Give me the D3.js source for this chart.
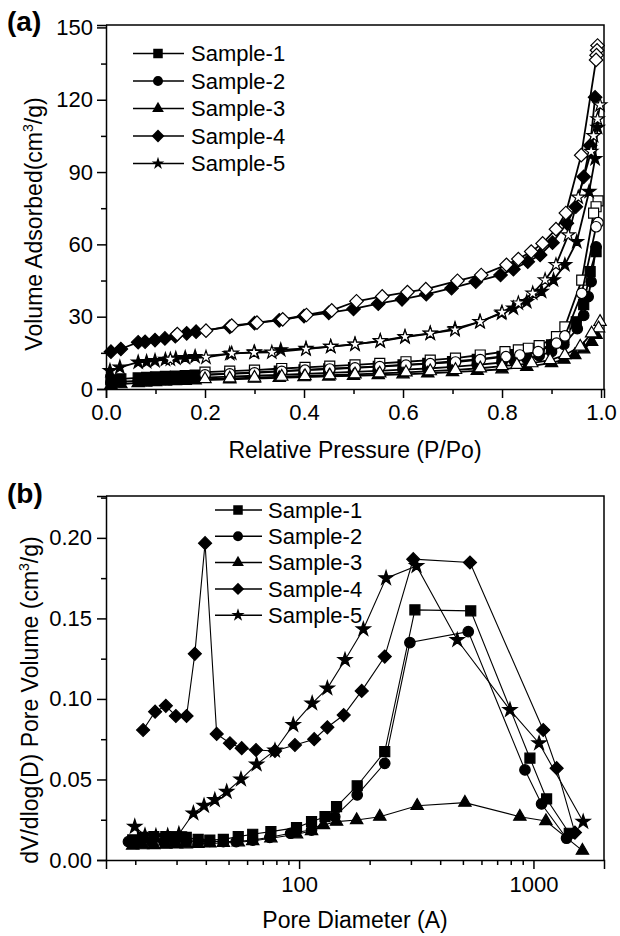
<!DOCTYPE html>
<html lang="en">
<head>
  <meta charset="utf-8">
  <script src="https://cdnjs.cloudflare.com/ajax/libs/d3/7.8.5/d3.min.js"></script>
  <style>
    body { margin: 0; background: #fff; }
    svg { font-family: "Liberation Sans", Arial, sans-serif; }
    .axis text { font-size: 22px; fill: #000; }
    .axis path, .axis line { stroke: #000; stroke-width: 1.5px; }
    .title { font-size: 23px; fill: #000; }
    .legend text { font-size: 22px; fill: #000; }
  </style>
</head>
<body>
<div id="chart"></div>
<script>
// ---- panel (a): N2 isotherms, [P/Po, volume] ----
var names = ['Sample-1', 'Sample-2', 'Sample-3', 'Sample-4', 'Sample-5'];
var shapes = ['square', 'circle', 'triangle', 'diamond', 'star'];

var s1Ads = [[0.01,3.8],[0.03,4.2],[0.065,4.6],[0.082,4.8],[0.1,5.0],[0.12,5.2],[0.14,5.4],[0.16,5.6],[0.18,5.8],[0.25,6.4],[0.3,6.9],[0.35,7.4],[0.4,7.9],[0.45,8.4],[0.5,8.9],[0.55,9.4],[0.6,10.0],[0.65,10.6],[0.7,11.4],[0.75,12.3],[0.8,13.5],[0.825,14.3],[0.85,15.2],[0.875,16.4],[0.9,18.3],[0.925,21.5],[0.95,27.9],[0.965,35],[0.978,48.7],[0.99,57]];
var s1Des = [[0.994,78],[0.99,75.6],[0.985,73],[0.961,45.2],[0.927,25.8],[0.91,21.7],[0.875,18.0],[0.853,16.9],[0.833,16.2],[0.806,15.5],[0.756,14.1],[0.706,12.8],[0.655,12.0],[0.606,11.3],[0.553,10.6],[0.503,10.0],[0.452,9.5],[0.402,9.0],[0.355,8.5],[0.3,7.8],[0.25,7.4],[0.2,7.0]];

var s2Ads = [[0.01,2.6],[0.03,3.0],[0.065,3.4],[0.082,3.6],[0.1,3.8],[0.12,4.0],[0.14,4.2],[0.16,4.4],[0.18,4.6],[0.25,5.1],[0.3,5.5],[0.35,5.9],[0.4,6.3],[0.45,6.7],[0.5,7.1],[0.55,7.5],[0.6,8.0],[0.65,8.5],[0.7,9.2],[0.75,10.0],[0.8,11.0],[0.825,11.7],[0.85,12.6],[0.875,13.8],[0.9,15.5],[0.925,18.5],[0.952,25.0],[0.965,30.5],[0.974,38.3],[0.98,44.5],[0.99,59]];
var s2Des = [[0.994,69],[0.99,67.3],[0.961,39.7],[0.927,22.0],[0.91,19.0],[0.873,15.5],[0.836,14.1],[0.808,13.4],[0.756,12.2],[0.706,11.2],[0.655,10.5],[0.606,9.9],[0.553,9.3],[0.503,8.8],[0.452,8.3],[0.402,7.8],[0.355,7.3],[0.3,6.7],[0.25,6.3],[0.2,5.9]];

var s3Ads = [[0.01,1.6],[0.03,2.0],[0.065,2.5],[0.08,2.7],[0.1,2.9],[0.12,3.1],[0.14,3.3],[0.16,3.4],[0.18,3.6],[0.25,4.0],[0.3,4.3],[0.35,4.6],[0.4,4.9],[0.45,5.2],[0.5,5.5],[0.55,5.8],[0.6,6.1],[0.65,6.5],[0.7,7.0],[0.75,7.5],[0.8,8.2],[0.85,9.2],[0.9,10.8],[0.925,12.2],[0.947,14.1],[0.965,16.5],[0.981,19.6],[0.99,22.5]];
var s3Des = [[0.998,27.9],[0.995,25.2],[0.981,23.1],[0.958,17.6],[0.927,14.1],[0.897,12.0],[0.86,10.7],[0.83,10.0],[0.8,9.5],[0.756,8.6],[0.706,7.9],[0.655,7.4],[0.606,6.9],[0.553,6.5],[0.503,6.1],[0.452,5.7],[0.402,5.4],[0.355,5.1],[0.3,4.7],[0.25,4.4],[0.2,4.1]];

var s4Ads = [[0.01,15.5],[0.03,16.6],[0.065,19.4],[0.079,19.6],[0.099,20.3],[0.119,21],[0.14,21.9],[0.163,23.1],[0.182,23.8],[0.25,25.8],[0.3,27.3],[0.35,28.5],[0.4,30.2],[0.45,31.6],[0.5,33.2],[0.55,35.4],[0.598,37.2],[0.647,39.3],[0.698,41.8],[0.747,44.5],[0.797,47.3],[0.823,49.7],[0.852,52.8],[0.877,55.6],[0.902,60.7],[0.931,68.8],[0.949,75.6],[0.965,88],[0.978,101],[0.988,121]];
var s4Des = [[0.993,142.5],[0.992,140.5],[0.991,138.5],[0.99,136.5],[0.96,97],[0.929,73],[0.909,66.3],[0.882,60.4],[0.859,57],[0.833,53.9],[0.809,51.5],[0.758,47.3],[0.71,44.9],[0.646,41.4],[0.609,40.2],[0.558,38.4],[0.506,36.4],[0.456,32.6],[0.405,30.7],[0.357,28.9],[0.305,27.5],[0.254,26.3],[0.202,24.2],[0.144,22.8]];

var s5Ads = [[0.008,7.6],[0.028,9.0],[0.065,11.1],[0.082,11.3],[0.099,11.7],[0.12,12.2],[0.141,12.7],[0.16,13.0],[0.18,13.4],[0.25,14.6],[0.3,15.3],[0.353,16.2],[0.404,16.8],[0.454,17.6],[0.503,18.6],[0.554,19.8],[0.604,21.5],[0.655,23.0],[0.705,25.0],[0.755,27.9],[0.799,31.4],[0.823,33.5],[0.85,36.2],[0.88,40.4],[0.904,45.2],[0.927,51.5],[0.951,61.1],[0.976,81.9],[0.988,95.5],[0.993,108.5]];
var s5Des = [[0.998,117.8],[0.993,112],[0.985,105],[0.98,98.5],[0.954,79.5],[0.934,63.9],[0.909,51.5],[0.887,45.2],[0.862,39.7],[0.833,35.6],[0.8,31.8],[0.756,27.9],[0.705,24.5],[0.655,23.1],[0.604,21.7],[0.554,20.0],[0.503,18.5],[0.454,17.6],[0.404,16.5],[0.335,15.2],[0.299,15.1],[0.254,14.8],[0.202,13.1],[0.13,12.3]];

var xTicksA = [0, 0.2, 0.4, 0.6, 0.8, 1.0];
var yTicksA = [0, 30, 60, 90, 120, 150];

// ---- panel (b): pore size distribution, [diameter A, dV/dlogD] ----
var s1Psd = [[19.5,0.0125],[21.5,0.014],[24,0.0145],[27,0.0145],[30,0.0143],[33,0.014],[37.1,0.0128],[41.6,0.0124],[47.5,0.0128],[55,0.0145],[63.4,0.016],[75.8,0.0176],[97.5,0.0201],[113,0.0238],[129,0.0269],[144.5,0.0331],[177,0.0461],[232,0.0673],[312,0.1553],[540,0.1547],[966,0.0632],[1138,0.0379],[1422,0.0166]];
var s2Psd = [[18.7,0.0114],[21,0.0112],[23.5,0.0112],[26.5,0.0113],[29.5,0.0114],[33,0.0115],[37.1,0.0118],[41.6,0.0116],[47.5,0.0114],[53.9,0.0114],[63.4,0.0124],[75,0.0141],[92,0.0166],[113,0.0186],[142,0.0269],[177,0.0404],[232,0.06],[297,0.135],[527,0.1418],[920,0.0559],[1083,0.0348],[1384,0.0135]];
var s3Psd = [[19.5,0.009],[21.5,0.0092],[24,0.0093],[27,0.0095],[30,0.0097],[33,0.0098],[37,0.01],[41.6,0.0103],[47.5,0.0106],[55,0.011],[63.4,0.0118],[75.8,0.0135],[97.5,0.016],[113,0.018],[127,0.0217],[144.5,0.0238],[176,0.0248],[221,0.0269],[319,0.0337],[510,0.0356],[875,0.0269],[1130,0.0242],[1618,0.0058]];
var s4Psd = [[21.6,0.0807],[24.3,0.0921],[27,0.0957],[29.8,0.0894],[33.1,0.0894],[35.9,0.128],[39.7,0.1967],[44.5,0.0783],[50.7,0.0725],[56.9,0.0694],[65.5,0.0683],[78.9,0.0677],[96,0.0714],[116,0.075],[132,0.0824],[155,0.09],[185,0.105],[232,0.1263],[307,0.1868],[536,0.1847],[1101,0.0807],[1256,0.057],[1503,0.017]];
var s5Psd = [[19.9,0.0207],[22,0.0152],[24.5,0.0148],[27.5,0.015],[30.7,0.0161],[35.4,0.029],[39.3,0.0337],[43.7,0.0373],[49.1,0.0424],[56.5,0.0501],[65.9,0.0594],[78.9,0.068],[94.4,0.0839],[113.7,0.0973],[132,0.1066],[157,0.1242],[188,0.1433],[235,0.175],[317,0.1826],[473,0.1366],[794,0.0932],[1057,0.0725],[1630,0.0238]];

var xTicksB = [100, 1000];
var yTicksB = [0, 0.05, 0.10, 0.15, 0.20];

var adsSets = [s1Ads, s2Ads, s3Ads, s4Ads, s5Ads];
var desSets = [s1Des, s2Des, s3Des, s4Des, s5Des];
var psdSets = [s1Psd, s2Psd, s3Psd, s4Psd, s5Psd];

// marker sizes (px) per shape for each panel
var sizeA = { square: 10, circle: 10.5, triangle: 11.5, diamond: 13.5, star: 10 };
var sizeB = { square: 10, circle: 10.5, triangle: 11.5, diamond: 13, star: 10.5 };

// marker path by shape name, sized in pixels
function marker(shape, size) {
  if (shape === 'square') return d3.symbol(d3.symbolSquare, size * size)();
  if (shape === 'circle') return d3.symbol(d3.symbolCircle, Math.PI * size * size / 4)();
  if (shape === 'triangle') return d3.symbol(d3.symbolTriangle, size * size * 0.5)();
  if (shape === 'diamond') return d3.symbol(d3.symbolSquare, size * size / 2)();
  return d3.symbol(d3.symbolStar, size * size * 0.55)();
}
function markerRot(shape) { return shape === 'diamond' ? ' rotate(45)' : ''; }

var svg = d3.select('#chart').append('svg')
  .attr('width', 620).attr('height', 936);

function frame(g, x0, x1, y0, y1) {
  g.append('path')
    .attr('d', 'M' + x0 + ',' + y0 + 'H' + x1 + 'V' + y1)
    .attr('fill', 'none').attr('stroke', '#000').attr('stroke-width', 1.5);
}

function minorAxis(g, axisFn, scale, vals, tx, ty) {
  g.append('g').attr('class', 'axis')
    .attr('transform', 'translate(' + tx + ',' + ty + ')')
    .call(axisFn(scale).tickValues(vals).tickSize(5).tickFormat(''))
    .select('.domain').remove();
}

function drawSeries(g, data, x, y, shape, size, filled, lw) {
  var line = d3.line().x(function(d) { return x(d[0]); }).y(function(d) { return y(d[1]); });
  g.append('path').datum(data)
    .attr('d', line).attr('fill', 'none').attr('stroke', '#000').attr('stroke-width', lw);
  g.append('g').selectAll('path').data(data).enter().append('path')
    .attr('d', marker(shape, size))
    .attr('transform', function(d) { return 'translate(' + x(d[0]) + ',' + y(d[1]) + ')' + markerRot(shape); })
    .attr('fill', filled ? '#000' : '#fff')
    .attr('stroke', '#000').attr('stroke-width', 1.2);
}

function legend(g, y0, dy, lineX0, lineX1, mx, tx, sizes) {
  names.forEach(function(n, i) {
    var yy = y0 + i * dy;
    g.append('line').attr('x1', lineX0).attr('x2', lineX1).attr('y1', yy).attr('y2', yy)
      .attr('stroke', '#000').attr('stroke-width', 1.5);
    g.append('path').attr('d', marker(shapes[i], sizes[shapes[i]] * 0.95))
      .attr('transform', 'translate(' + mx + ',' + yy + ')' + markerRot(shapes[i]))
      .attr('fill', '#000');
    g.append('text').attr('x', tx).attr('y', yy).attr('dy', '0.35em').text(n);
  });
}

// ================= panel (a) =================
var xa = d3.scaleLinear().domain([0, 1.006]).range([106, 604]);
var ya = d3.scaleLinear().domain([0, 151]).range([389, 25]);
var ga = svg.append('g');

ga.append('g').attr('class', 'axis').attr('transform', 'translate(0,389)')
  .call(d3.axisBottom(xa).tickValues(xTicksA).tickSize(9).tickPadding(6).tickFormat(d3.format('.1f')));
minorAxis(ga, d3.axisBottom, xa, [0.1, 0.3, 0.5, 0.7, 0.9], 0, 389);
ga.append('g').attr('class', 'axis').attr('transform', 'translate(106,0)')
  .call(d3.axisLeft(ya).tickValues(yTicksA).tickSize(9).tickPadding(4));
minorAxis(ga, d3.axisLeft, ya, [15, 45, 75, 105, 135], 106, 0);
frame(ga, 106, 604, 25, 389);

for (var i = 0; i < 5; i++) {
  drawSeries(ga, adsSets[i], xa, ya, shapes[i], sizeA[shapes[i]], true, 1.8);
  drawSeries(ga, desSets[i], xa, ya, shapes[i], sizeA[shapes[i]], false, 1.8);
}

legend(ga.append('g').attr('class', 'legend'), 53.5, 27.5, 133, 184, 158, 191, sizeA);

ga.append('text').attr('class', 'title').attr('x', 355).attr('y', 458)
  .attr('text-anchor', 'middle').text('Relative Pressure (P/Po)');
var ta = ga.append('text').attr('class', 'title')
  .attr('transform', 'translate(42,224) rotate(-90)').attr('text-anchor', 'middle');
ta.append('tspan').text('Volume Adsorbed(cm');
ta.append('tspan').attr('dy', -9).attr('font-size', 14).text('3');
ta.append('tspan').attr('dy', 9).text('/g)');
ga.append('text').attr('x', 7).attr('y', 31).attr('font-size', 28).attr('font-weight', 'bold').text('(a)');

// ================= panel (b) =================
var xb = d3.scaleLog().domain([15, 2000]).range([106, 604]);
var yb = d3.scaleLinear().domain([0, 0.226]).range([860, 496]);
var gb = svg.append('g');

gb.append('g').attr('class', 'axis').attr('transform', 'translate(0,860)')
  .call(d3.axisBottom(xb).tickValues(xTicksB).tickSize(9).tickPadding(7).tickFormat(d3.format('d')));
minorAxis(gb, d3.axisBottom, xb, [20, 30, 40, 50, 60, 70, 80, 90, 200, 300, 400, 500, 600, 700, 800, 900], 0, 860);
gb.append('g').attr('class', 'axis').attr('transform', 'translate(106,0)')
  .call(d3.axisLeft(yb).tickValues(yTicksB).tickSize(9).tickPadding(5).tickFormat(d3.format('.2f')));
minorAxis(gb, d3.axisLeft, yb, [0.025, 0.075, 0.125, 0.175, 0.225], 106, 0);
frame(gb, 106, 604, 496, 860);

for (var j = 0; j < 5; j++) {
  drawSeries(gb, psdSets[j], xb, yb, shapes[j], sizeB[shapes[j]], true, 1.1);
}

legend(gb.append('g').attr('class', 'legend'), 510, 26.3, 215, 262, 238, 268, sizeB);

gb.append('text').attr('class', 'title').attr('x', 355).attr('y', 928)
  .attr('text-anchor', 'middle').text('Pore Diameter (A)');
var tb = gb.append('text').attr('class', 'title')
  .attr('transform', 'translate(38,700) rotate(-90)').attr('text-anchor', 'middle');
tb.append('tspan').text('dV/dlog(D) Pore Volume (cm');
tb.append('tspan').attr('dy', -9).attr('font-size', 14).text('3');
tb.append('tspan').attr('dy', 9).text('/g)');
gb.append('text').attr('x', 7).attr('y', 503).attr('font-size', 28).attr('font-weight', 'bold').text('(b)');
</script>
</body>
</html>
